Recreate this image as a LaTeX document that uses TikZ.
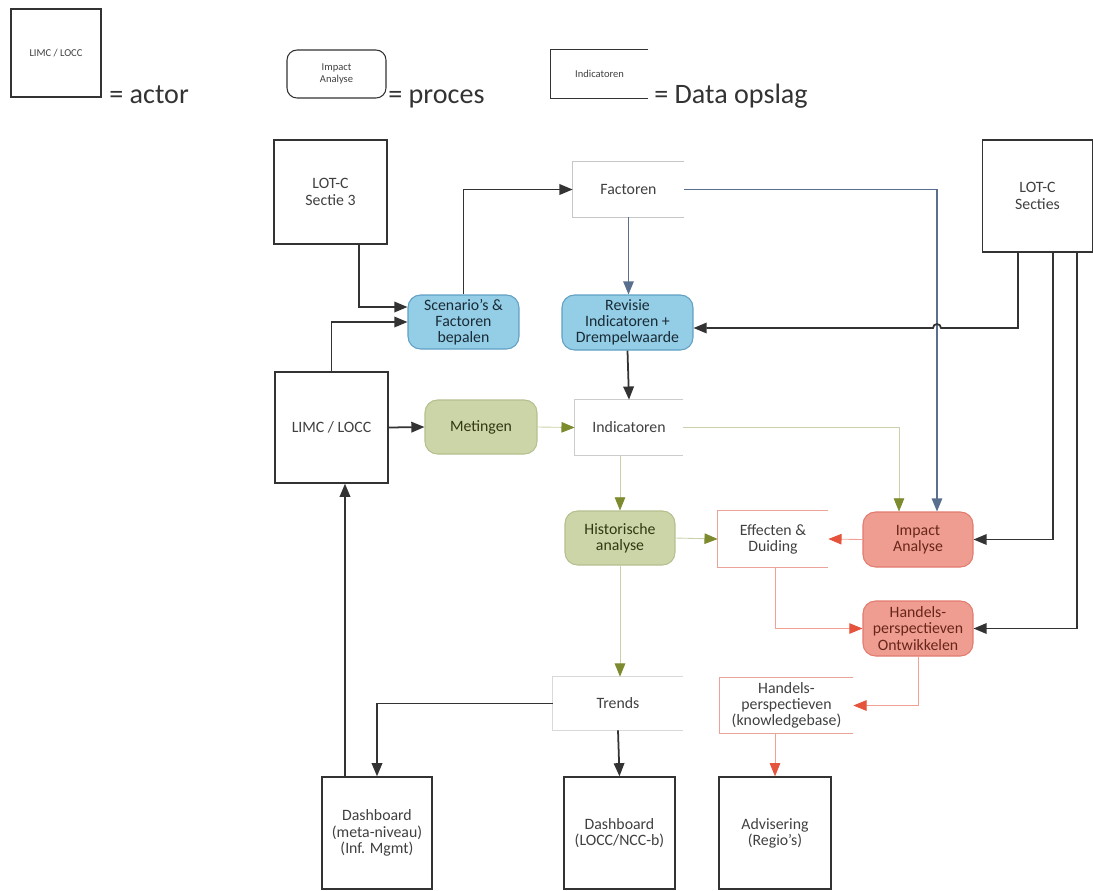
\documentclass[tikz,border=0pt]{standalone}
\usepackage{fontspec}
\setmainfont{Carlito}
\usetikzlibrary{positioning, arrows.meta, calc}

\definecolor{procblue}{HTML}{93CDE6}
\definecolor{procblueline}{HTML}{609FC4}
\definecolor{procgreen}{HTML}{CCD5A8}
\definecolor{procgreenline}{HTML}{B4BF8E}
\definecolor{procred}{HTML}{F09D91}
\definecolor{procredline}{HTML}{E27A6E}
\definecolor{olivearr}{HTML}{7D8B2E}
\definecolor{redarr}{HTML}{E5533C}
\definecolor{slatearr}{HTML}{5A6E8E}
\definecolor{darkline}{HTML}{333333}

\tikzset{
  boxfont/.style={font=\fontsize{9}{9.2}\selectfont},
  smallfont/.style={font=\fontsize{6}{7}\selectfont},
  legtext/.style={font=\fontsize{16}{19}\selectfont, text=black!80, inner sep=0pt},
  actor/.style={draw=darkline, line width=0.8pt, fill=white, text=black!75,
    align=center, boxfont, inner sep=1pt},
  proc/.style={rounded corners=2.5mm, line width=0.6pt, align=center, boxfont, inner sep=1pt},
  blueproc/.style={proc, fill=procblue, draw=procblueline, text=black!55!procblueline!60!black},
  greenproc/.style={proc, fill=procgreen, draw=procgreenline, text=black!60!olivearr},
  redproc/.style={proc, fill=procred, draw=procredline, text=black!35!redarr!70!black},
  store/.style={align=center, boxfont, text=black!75, inner sep=1pt},
  tip/.style={-{Triangle[length=7.5pt, width=6pt, #1]}},
  dk/.style={draw=darkline, line width=1pt, tip={}},
  sl/.style={draw=slatearr, line width=0.8pt, tip={}},
  ol/.style={draw=olivearr!40, line width=0.5pt, tip={color=olivearr}},
  rd/.style={draw=redarr!55, line width=0.5pt, tip={color=redarr}},
}

\begin{document}
\begin{tikzpicture}[x=0.02cm, y=-0.02cm]
    \useasboundingbox (0,0) rectangle (1093,890);

    % Legend
    \node[actor, smallfont, line width=0.6pt, minimum width=1.8cm, minimum height=1.76cm] (lgact) at (56,53) {LIMC / LOCC};
    \node[legtext, anchor=base west] (lgactT) at (109,103) {= actor};
    \node[proc, draw=darkline, smallfont, text=black!75, rounded corners=2mm, minimum width=1.98cm, minimum height=0.96cm] (lgproc) at (336.5,74) {Impact\\Analyse};
    \node[legtext, anchor=base west] (lgprocT) at (388,103) {= proces};
    \node[store, smallfont, minimum width=1.94cm, minimum height=0.96cm] (lgstore) at (599.5,74) {Indicatoren};
    \node[legtext, anchor=base west] (lgstoreT) at (654,103) {= Data opslag};

    % Actors
    \node[actor, minimum width=2.26cm, minimum height=2.08cm] (sec3) at (330.5,192) {LOT-C\\Sectie 3};
    \node[actor, minimum width=2.2cm, minimum height=2.24cm] (secties) at (1037.5,196) {LOT-C\\Secties};
    \node[actor, minimum width=2.26cm, minimum height=2.22cm] (limc) at (331.5,427.5) {LIMC / LOCC};
    \node[actor, minimum width=2.2cm, minimum height=2.24cm] (dbmeta) at (377,833) {Dashboard\\(meta-niveau)\\(Inf. Mgmt)};
    \node[actor, minimum width=2.22cm, minimum height=2.24cm] (dblocc) at (619.5,833) {Dashboard\\(LOCC/NCC-b)};
    \node[actor, minimum width=2.24cm, minimum height=2.24cm] (advis) at (775,833) {Advisering\\(Regio's)};

    % Processes
    \node[blueproc, minimum width=2.22cm, minimum height=1.08cm] (scen) at (463.5,322) {Scenario's \&\\Factoren\\bepalen};
    \node[blueproc, minimum width=2.62cm, minimum height=1.1cm] (rev) at (627.5,322.5) {Revisie\\Indicatoren +\\Drempelwaarde};
    \node[greenproc, minimum width=2.24cm, minimum height=1.08cm] (met) at (481,427) {Metingen};
    \node[greenproc, minimum width=2.2cm, minimum height=1.08cm] (hist) at (620,538) {Historische\\analyse};
    \node[redproc, minimum width=2.2cm, minimum height=1.1cm] (impact) at (918,539.5) {Impact\\Analyse};
    \node[redproc, minimum width=2.2cm, minimum height=1.1cm] (hpo) at (918,628.5) {Handels-\\perspectieven\\Ontwikkelen};

    % Data stores (open on the right)
    \node[store, minimum width=2.22cm, minimum height=1.1cm] (fac) at (628.5,189.5) {Factoren};
    \node[store, minimum width=2.16cm, minimum height=1.1cm] (ind) at (629,427.5) {Indicatoren};
    \node[store, minimum width=2.2cm, minimum height=1.12cm] (eff) at (773,539) {Effecten \&\\Duiding};
    \node[store, minimum width=2.6cm, minimum height=1.06cm] (trends) at (618,703.5) {Trends};
    \node[store, minimum width=2.66cm, minimum height=1.1cm] (hkb) at (786.5,705.5) {Handels-\\perspectieven\\(knowledgebase)};
    \foreach \s/\c in {fac/gray!45, ind/gray!40, trends/gray!30, eff/procredline!70, hkb/procredline!70, lgstore/darkline}
        \draw[draw=\c, line width=0.5pt] (\s.north east) -- (\s.north west) -- (\s.south west) -- (\s.south east);

    % Dark connectors
    \draw[dk] ($(sec3.south)+(28.5,0)$) |- ($(scen.west)+(0,-15)$);
    \draw[dk] (limc.north) |- (scen.west);
    \draw[dk] (scen.north) |- (fac.west);
    \draw[dk] (rev.south) -- (ind.north);
    \draw[dk] (limc.east) -- (met.west);
    \draw[dk] (trends.south) -- (dblocc.north);
    \draw[dk] (trends.west) -| (dbmeta.north);
    \draw[dk] ($(dbmeta.north)+(-32,0)$) -- ($(limc.south)+(13.5,0)$);
    \draw[dk] ($(secties.south)+(15.5,0)$) |- (impact.east);
    \draw[dk] ($(secties.south)+(39.5,0)$) |- (hpo.east);

    % Slate connectors from Factoren
    \draw[sl] (fac.south) -- (fac.south |- rev.north);
    \draw[sl] (fac.east) -| ($(impact.north)+(19,0)$);

    % LOT-C Secties to Revisie, hopping over the slate line
    \draw[dk] ($(secties.south)+(-19.5,0)$) |- ($(impact.north |- rev.east)+(23,5.5)$)
        arc[start angle=0, end angle=180, radius=0.08cm] -- ($(rev.east)+(0,5.5)$);

    % Olive connectors
    \draw[ol] (met.east) -- (ind.west);
    \draw[ol] (ind.south -| hist.north) -- (hist.north);
    \draw[ol] (ind.east) -| ($(impact.north)+(-19,0)$);
    \draw[ol] (hist.east) -- (eff.west);
    \draw[ol] (hist.south) -- (hist.south |- trends.north);

    % Red connectors
    \draw[rd] (impact.west) -- (eff.east);
    \draw[rd] ($(eff.south)+(2,0)$) |- (hpo.west);
    \draw[rd] (hpo.south) |- (hkb.east);
    \draw[rd] (hkb.south -| advis.north) -- (advis.north);
\end{tikzpicture}
\end{document}
